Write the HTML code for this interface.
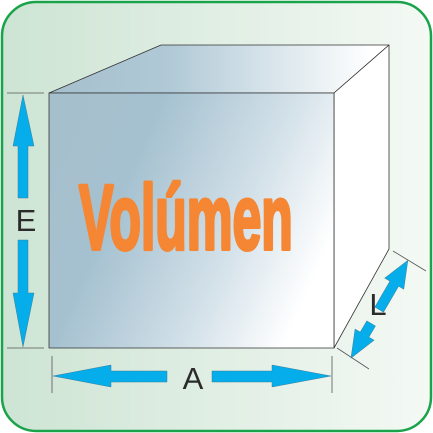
<!DOCTYPE html>
<html><head><meta charset="utf-8"><style>
html,body{margin:0;padding:0;width:433px;height:433px;overflow:hidden;background:#fff}
svg{display:block}
</style></head><body>
<svg width="433" height="433" viewBox="0 0 433 433">
<defs>
<linearGradient id="bg" x1="0" y1="0" x2="1" y2="0">
<stop offset="0" stop-color="#cde4d4"/><stop offset="1" stop-color="#f4f9f4"/>
</linearGradient>
<linearGradient id="front" x1="0" y1="0.3" x2="1" y2="0.7">
<stop offset="0" stop-color="#a6bfcd"/><stop offset="0.25" stop-color="#a5c1d0"/><stop offset="0.65" stop-color="#d3e1e9"/><stop offset="0.95" stop-color="#ffffff"/>
</linearGradient>
<linearGradient id="top" x1="0" y1="0" x2="1" y2="0">
<stop offset="0" stop-color="#a6bfcd"/><stop offset="0.35" stop-color="#b0c9d6"/><stop offset="0.95" stop-color="#ffffff"/>
</linearGradient>
</defs>
<rect x="2" y="2" width="429" height="429" rx="34" fill="url(#bg)" stroke="#1aa34a" stroke-width="2.5"/>
<g stroke="#333" stroke-width="0.8" stroke-linejoin="round">
<polygon points="49,93 161,45 389,45 334,93" fill="url(#top)"/>
<polygon points="334,93 389,45 389,249 334,348" fill="#ffffff"/>
<rect x="49" y="93" width="285" height="255" fill="url(#front)"/>
</g>
<text x="0" y="249" transform="translate(79,0) scale(0.56,1)" font-family="Liberation Sans, sans-serif" font-weight="bold" font-size="92" fill="#f58634" stroke="#f58634" stroke-width="4" stroke-linejoin="round">Volúmen</text>
<g stroke="#555" stroke-width="0.8">
<line x1="7" y1="93" x2="44" y2="93"/>
<line x1="7" y1="348" x2="44" y2="348"/>
<line x1="52" y1="356" x2="52" y2="393"/>
<line x1="332" y1="356" x2="332" y2="393"/>
<line x1="337" y1="348" x2="369" y2="369"/>
<line x1="393" y1="251" x2="426" y2="271"/>
</g>
<g fill="#05aeea" stroke="#3d7f9a" stroke-width="0.5">
<polygon points="23,95 34,146 28,146 28,198 18,198 18,146 13,146"/>
<polygon points="23,347 34,293 28,293 28,240 18,240 18,293 13,293"/>
<polygon points="53,376 111,365 111,371 167,371 167,382 111,382 111,387"/>
<polygon points="331,376 272,365 272,371 212,371 212,382 272,382 272,387"/>
<g transform="translate(351,358) rotate(-59.8)">
<polygon points="0,0 27,-11 27,-5 40,-5 40,5 27,5 27,11"/>
<polygon points="113,0 86,-11 86,-5 56,-5 56,5 86,5 86,11"/>
</g>
</g>
<g font-family="Liberation Sans, sans-serif" font-size="31" fill="#2b2b2b">
<text x="26" y="231" text-anchor="middle">E</text>
<text x="193" y="389" text-anchor="middle">A</text>
<text x="378" y="315" text-anchor="middle">L</text>
</g>
</svg>
</body></html>
